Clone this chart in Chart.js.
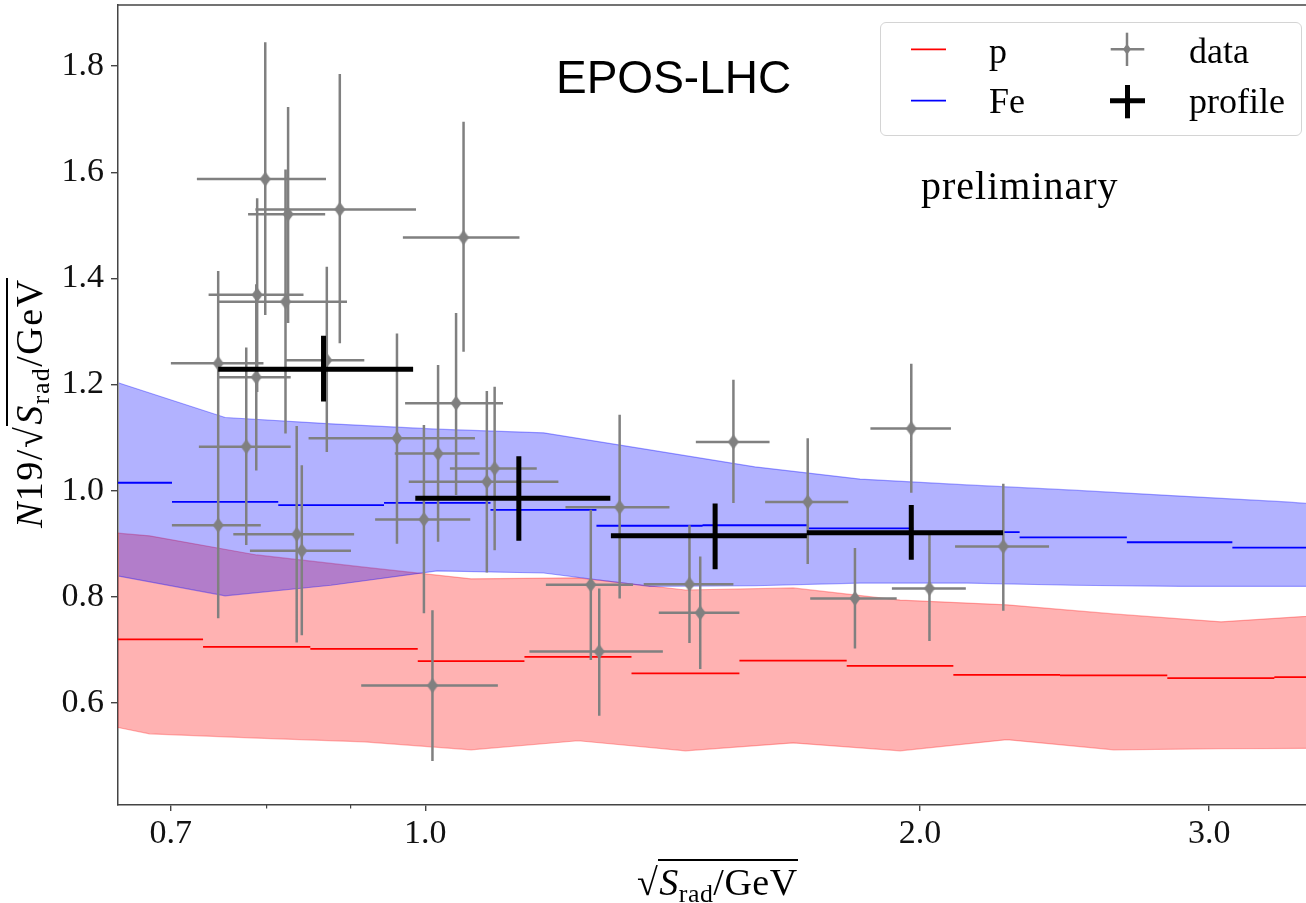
<!DOCTYPE html>
<html>
<head>
<meta charset="utf-8">
<script src="https://cdn.jsdelivr.net/npm/chart.js@4.4.1/dist/chart.umd.min.js"></script>
<style>
  html, body { margin: 0; padding: 0; background: #fff; }
  #wrap { position: relative; width: 1306px; height: 903px; overflow: hidden; background: #fff; }
  #c { position: absolute; left: 0; top: 0; }
  .txt { position: absolute; white-space: nowrap; color: #000; line-height: 1; }
  .serif { font-family: 'Liberation Serif', serif; }
  .ol { border-top: 2px solid #000; padding-left: 1px; }
  .sub { font-size: 0.68em; position: relative; top: 0.28em; }
  #legendBox { position: absolute; left: 880px; top: 22px; width: 420px; height: 112px;
               border: 1.5px solid #d4d4d4; border-radius: 6px; background: rgba(255,255,255,0.85); }
  #ylab { transform-origin: 0 0; transform: rotate(-90deg); letter-spacing: 1.5px; }
</style>
</head>
<body>
<div id="wrap">
  <canvas id="c" width="1306" height="903"></canvas>

  <div class="txt" style="left:556px; top:54px; font-family:'Liberation Sans', sans-serif; font-size:46px;">EPOS-LHC</div>
  <div class="txt serif" style="left:921px; top:166px; font-size:40px; letter-spacing:1px;">preliminary</div>

  <div id="legendBox"></div>
  <svg style="position:absolute; left:0; top:0;" width="1306" height="903">
    <line x1="911" y1="49.3" x2="946" y2="49.3" stroke="#ff0000" stroke-width="1.8"/>
    <line x1="911" y1="100.7" x2="946" y2="100.7" stroke="#0000ff" stroke-width="1.8"/>
    <line x1="1110.7" y1="49.3" x2="1144.3" y2="49.3" stroke="#808080" stroke-width="2.5"/>
    <line x1="1127" y1="32.7" x2="1127" y2="66" stroke="#808080" stroke-width="2.5"/>
    <polygon points="1127,43.8 1131,49.3 1127,54.8 1123,49.3" fill="#808080"/>
    <line x1="1110" y1="100.7" x2="1145" y2="100.7" stroke="#000" stroke-width="5"/>
    <line x1="1127.5" y1="85" x2="1127.5" y2="118.3" stroke="#000" stroke-width="5"/>
  </svg>
  <div class="txt serif" style="left:989px; top:32.5px; font-size:36px;">p</div>
  <div class="txt serif" style="left:989px; top:83.2px; font-size:36px;">Fe</div>
  <div class="txt serif" style="left:1189px; top:32.5px; font-size:36px;">data</div>
  <div class="txt serif" style="left:1189px; top:83.2px; font-size:36px;">profile</div>

  <div id="ylab" class="txt serif" style="left:10px; top:528px; font-size:38px;"><i>N</i>19/√<span class="ol"><i>S</i><span class="sub">rad</span>/GeV</span></div>
  <div class="txt serif" style="left:637px; top:863px; font-size:38px; letter-spacing:0.5px;">√<span class="ol"><i>S</i><span class="sub">rad</span>/GeV</span></div>
</div>

<script>
// Axis ticks
const xTickValues = [0.7, 1.0, 2.0, 3.0];
const xTickLabels = ['0.7', '1.0', '2.0', '3.0'];
const xMinorTickValues = [0.8, 0.9];
const yTickValues = [0.6, 0.8, 1.0, 1.2, 1.4, 1.6, 1.8];
const yTickLabels = ['0.6', '0.8', '1.0', '1.2', '1.4', '1.6', '1.8'];

// EPOS-LHC proton prediction: binned mean and spread band
const pBinEdges = [0.630, 0.7323, 0.8511, 0.9894, 1.149, 1.335, 1.553, 1.805, 2.096, 2.434, 2.829, 3.287, 3.818];
const pMean     = [0.720, 0.706, 0.702, 0.679, 0.687, 0.656, 0.680, 0.670, 0.653, 0.652, 0.647, 0.649];
const pBandX    = [0.650, 0.6794, 0.7896, 0.9178, 1.0662, 1.2387, 1.4401, 1.6744, 1.9454, 2.2594, 2.6238, 3.0503, 3.5426];
const pBandHigh = [0.920, 0.915, 0.879, 0.856, 0.834, 0.836, 0.813, 0.817, 0.794, 0.785, 0.768, 0.753, 0.766];
const pBandLow  = [0.554, 0.542, 0.534, 0.527, 0.512, 0.529, 0.510, 0.525, 0.510, 0.531, 0.512, 0.514, 0.515];

// EPOS-LHC iron prediction
const feBinEdges = [0.6040, 0.7011, 0.8137, 0.9437, 1.0956, 1.2710, 1.4748, 1.7085, 1.9815, 2.300, 2.673, 3.099, 3.594];
const feMean     = [1.015, 0.979, 0.973, 0.977, 0.964, 0.934, 0.935, 0.929, 0.922, 0.912, 0.903, 0.893];
const feBandX    = [0.6508, 0.7553, 0.8762, 1.0165, 1.1803, 1.3694, 1.5868, 1.8391, 2.1363, 2.4803, 2.8805, 3.3413, 3.436];
const feBandHigh = [1.203, 1.138, 1.126, 1.116, 1.109, 1.077, 1.045, 1.022, 1.011, 1.001, 0.990, 0.979, 0.976];
const feBandLow  = [0.839, 0.802, 0.822, 0.849, 0.845, 0.820, 0.821, 0.826, 0.826, 0.822, 0.820, 0.820, 0.820];

// Measured events
const dataX     = [0.748, 0.748, 0.778, 0.789, 0.790, 0.799, 0.822, 0.825, 0.835, 0.841, 0.871, 0.887, 0.961, 0.998, 1.010, 1.018, 1.044, 1.055, 1.090, 1.102, 1.261, 1.276, 1.313, 1.448, 1.470, 1.540, 1.709, 1.826, 1.976, 2.027, 2.248];
const dataY     = [0.935, 1.240, 1.083, 1.214, 1.369, 1.587, 1.356, 1.521, 0.918, 0.887, 1.246, 1.530, 1.099, 0.946, 0.633, 1.070, 1.165, 1.477, 1.017, 1.042, 0.823, 0.697, 0.969, 0.824, 0.770, 1.092, 0.979, 0.797, 1.117, 0.816, 0.895];
const dataXLow  = [0.701, 0.700, 0.728, 0.748, 0.738, 0.726, 0.748, 0.780, 0.764, 0.782, 0.823, 0.788, 0.849, 0.932, 0.914, 0.958, 0.972, 0.969, 0.977, 1.035, 1.184, 1.157, 1.217, 1.358, 1.387, 1.461, 1.610, 1.715, 1.866, 1.923, 2.101];
const dataXHigh = [0.794, 0.797, 0.828, 0.828, 0.843, 0.870, 0.896, 0.869, 0.905, 0.901, 0.918, 0.987, 1.072, 1.065, 1.107, 1.079, 1.115, 1.141, 1.205, 1.169, 1.338, 1.395, 1.408, 1.540, 1.553, 1.620, 1.809, 1.936, 2.089, 2.133, 2.397];
const dataYLow  = [0.760, 1.065, 0.898, 1.038, 1.186, 1.331, 1.108, 1.316, 0.714, 0.728, 1.073, 1.278, 0.900, 0.769, 0.491, 0.904, 0.992, 1.262, 0.846, 0.888, 0.681, 0.576, 0.797, 0.713, 0.664, 0.977, 0.862, 0.703, 0.996, 0.717, 0.774];
const dataYHigh = [1.111, 1.414, 1.270, 1.389, 1.551, 1.845, 1.605, 1.723, 1.122, 1.048, 1.422, 1.785, 1.296, 1.124, 0.775, 1.237, 1.335, 1.695, 1.188, 1.196, 0.964, 0.816, 1.143, 0.935, 0.876, 1.209, 1.099, 0.892, 1.239, 0.917, 1.013];

// Profile of the measured events
const profX     = [0.867, 1.140, 1.501, 1.976];
const profY     = [1.229, 0.986, 0.915, 0.921];
const profXLow  = [0.748, 0.986, 1.297, 1.707];
const profXHigh = [0.983, 1.296, 1.707, 2.247];
const profYLow  = [1.168, 0.906, 0.852, 0.870];
const profYHigh = [1.292, 1.065, 0.976, 0.973];

// Helpers turning the arrays into point lists for line datasets
function steps(edges, values) {
  const pts = [];
  values.forEach((v, i) => {
    pts.push({ x: edges[i], y: v }, { x: edges[i + 1], y: v }, { x: edges[i + 1], y: null });
  });
  return pts;
}
function crosses(x, y, xl, xh, yl, yh) {
  const pts = [];
  x.forEach((xv, i) => {
    pts.push({ x: xl[i], y: y[i] }, { x: xh[i], y: y[i] }, { x: xh[i], y: null });
    pts.push({ x: xv, y: yl[i] }, { x: xv, y: yh[i] }, { x: xv, y: null });
  });
  return pts;
}
function curve(xs, ys) { return xs.map((xv, i) => ({ x: xv, y: ys[i] })); }

// Thin diamond marker for the data points
const diamond = document.createElement('canvas');
diamond.width = 12; diamond.height = 16;
(function () {
  const g = diamond.getContext('2d');
  g.fillStyle = '#808080';
  g.beginPath();
  g.moveTo(6, 0.5); g.lineTo(11.5, 8); g.lineTo(6, 15.5); g.lineTo(0.5, 8);
  g.closePath(); g.fill();
})();

// Top edge of the plotting frame
const frameTop = {
  id: 'frameTop',
  afterDraw(chart) {
    const { ctx, chartArea: a } = chart;
    ctx.save();
    ctx.strokeStyle = '#444';
    ctx.lineWidth = 1.5;
    ctx.beginPath();
    ctx.moveTo(a.left, a.top);
    ctx.lineTo(a.right, a.top);
    ctx.stroke();
    ctx.restore();
  }
};

const lineBase = { pointRadius: 0, tension: 0, spanGaps: false, fill: false };
const tickFont = { family: "'Liberation Serif', serif", size: 34 };
const noPadX = s => { s.paddingLeft = 0; s.paddingRight = 0; };

new Chart(document.getElementById('c'), {
  type: 'line',
  data: {
    datasets: [
      Object.assign({}, lineBase, { label: 'profile', data: crosses(profX, profY, profXLow, profXHigh, profYLow, profYHigh),
        borderColor: '#000', borderWidth: 5, borderCapStyle: 'butt', order: 0 }),
      { label: 'data', data: curve(dataX, dataY), showLine: false, pointStyle: diamond, pointRadius: 6,
        pointHoverRadius: 6, order: 1 },
      Object.assign({}, lineBase, { label: 'data errors', data: crosses(dataX, dataY, dataXLow, dataXHigh, dataYLow, dataYHigh),
        borderColor: '#808080', borderWidth: 2.5, borderCapStyle: 'butt', order: 2 }),
      Object.assign({}, lineBase, { label: 'p', data: steps(pBinEdges, pMean), borderColor: '#ff0000', borderWidth: 1.8, order: 3 }),
      Object.assign({}, lineBase, { label: 'Fe', data: steps(feBinEdges, feMean), borderColor: '#0000ff', borderWidth: 1.8, order: 3 }),
      Object.assign({}, lineBase, { label: 'Fe high', data: curve(feBandX, feBandHigh), borderColor: 'rgba(0,0,255,0.35)', borderWidth: 1.2, order: 5 }),
      Object.assign({}, lineBase, { label: 'Fe low', data: curve(feBandX, feBandLow), borderColor: 'rgba(0,0,255,0.35)', borderWidth: 1.2,
        fill: '-1', backgroundColor: 'rgba(0,0,255,0.3)', order: 5 }),
      Object.assign({}, lineBase, { label: 'p high', data: curve(pBandX, pBandHigh), borderColor: 'rgba(255,0,0,0.3)', borderWidth: 1.2, order: 7 }),
      Object.assign({}, lineBase, { label: 'p low', data: curve(pBandX, pBandLow), borderColor: 'rgba(255,0,0,0.3)', borderWidth: 1.2,
        fill: '-1', backgroundColor: 'rgba(255,0,0,0.3)', order: 7 })
    ]
  },
  options: {
    responsive: false,
    animation: false,
    events: [],
    layout: { autoPadding: false, padding: { top: 5, left: 0, right: 0, bottom: 0 } },
    plugins: { legend: { display: false }, tooltip: { enabled: false }, title: { display: false } },
    scales: {
      x: {
        type: 'logarithmic', position: 'bottom', weight: 1,
        min: 0.650, max: 3.436,
        afterBuildTicks: s => { s.ticks = xTickValues.map(v => ({ value: v })); },
        afterFit: s => { s.height = 98; noPadX(s); },
        ticks: { autoSkip: false, maxRotation: 0, padding: 3, color: '#111', font: tickFont,
                 callback: (v, i) => xTickLabels[i] },
        grid: { display: true, drawOnChartArea: false, drawTicks: true, tickLength: 6, color: '#444', lineWidth: 1.4 },
        border: { display: true, color: '#444', width: 1.5 }
      },
      xMinor: {
        type: 'logarithmic', position: 'bottom', weight: 0,
        min: 0.650, max: 3.436,
        afterBuildTicks: s => { s.ticks = xMinorTickValues.map(v => ({ value: v })); },
        afterFit: s => { s.height = 0; noPadX(s); },
        ticks: { display: false, autoSkip: false },
        grid: { display: true, drawOnChartArea: false, drawTicks: true, tickLength: 3.5, color: '#444', lineWidth: 1.2 },
        border: { display: false }
      },
      y: {
        type: 'linear', position: 'left',
        min: 0.408, max: 1.915,
        afterBuildTicks: s => { s.ticks = yTickValues.map(v => ({ value: v })); },
        afterFit: s => { s.width = 118; s.paddingTop = 0; s.paddingBottom = 0; },
        ticks: { autoSkip: false, padding: 7, color: '#111', font: tickFont,
                 callback: (v, i) => yTickLabels[i] },
        grid: { display: true, drawOnChartArea: false, drawTicks: true, tickLength: 7, color: '#444', lineWidth: 1.4 },
        border: { display: true, color: '#444', width: 1.5 }
      }
    }
  },
  plugins: [frameTop]
});
</script>
</body>
</html>
